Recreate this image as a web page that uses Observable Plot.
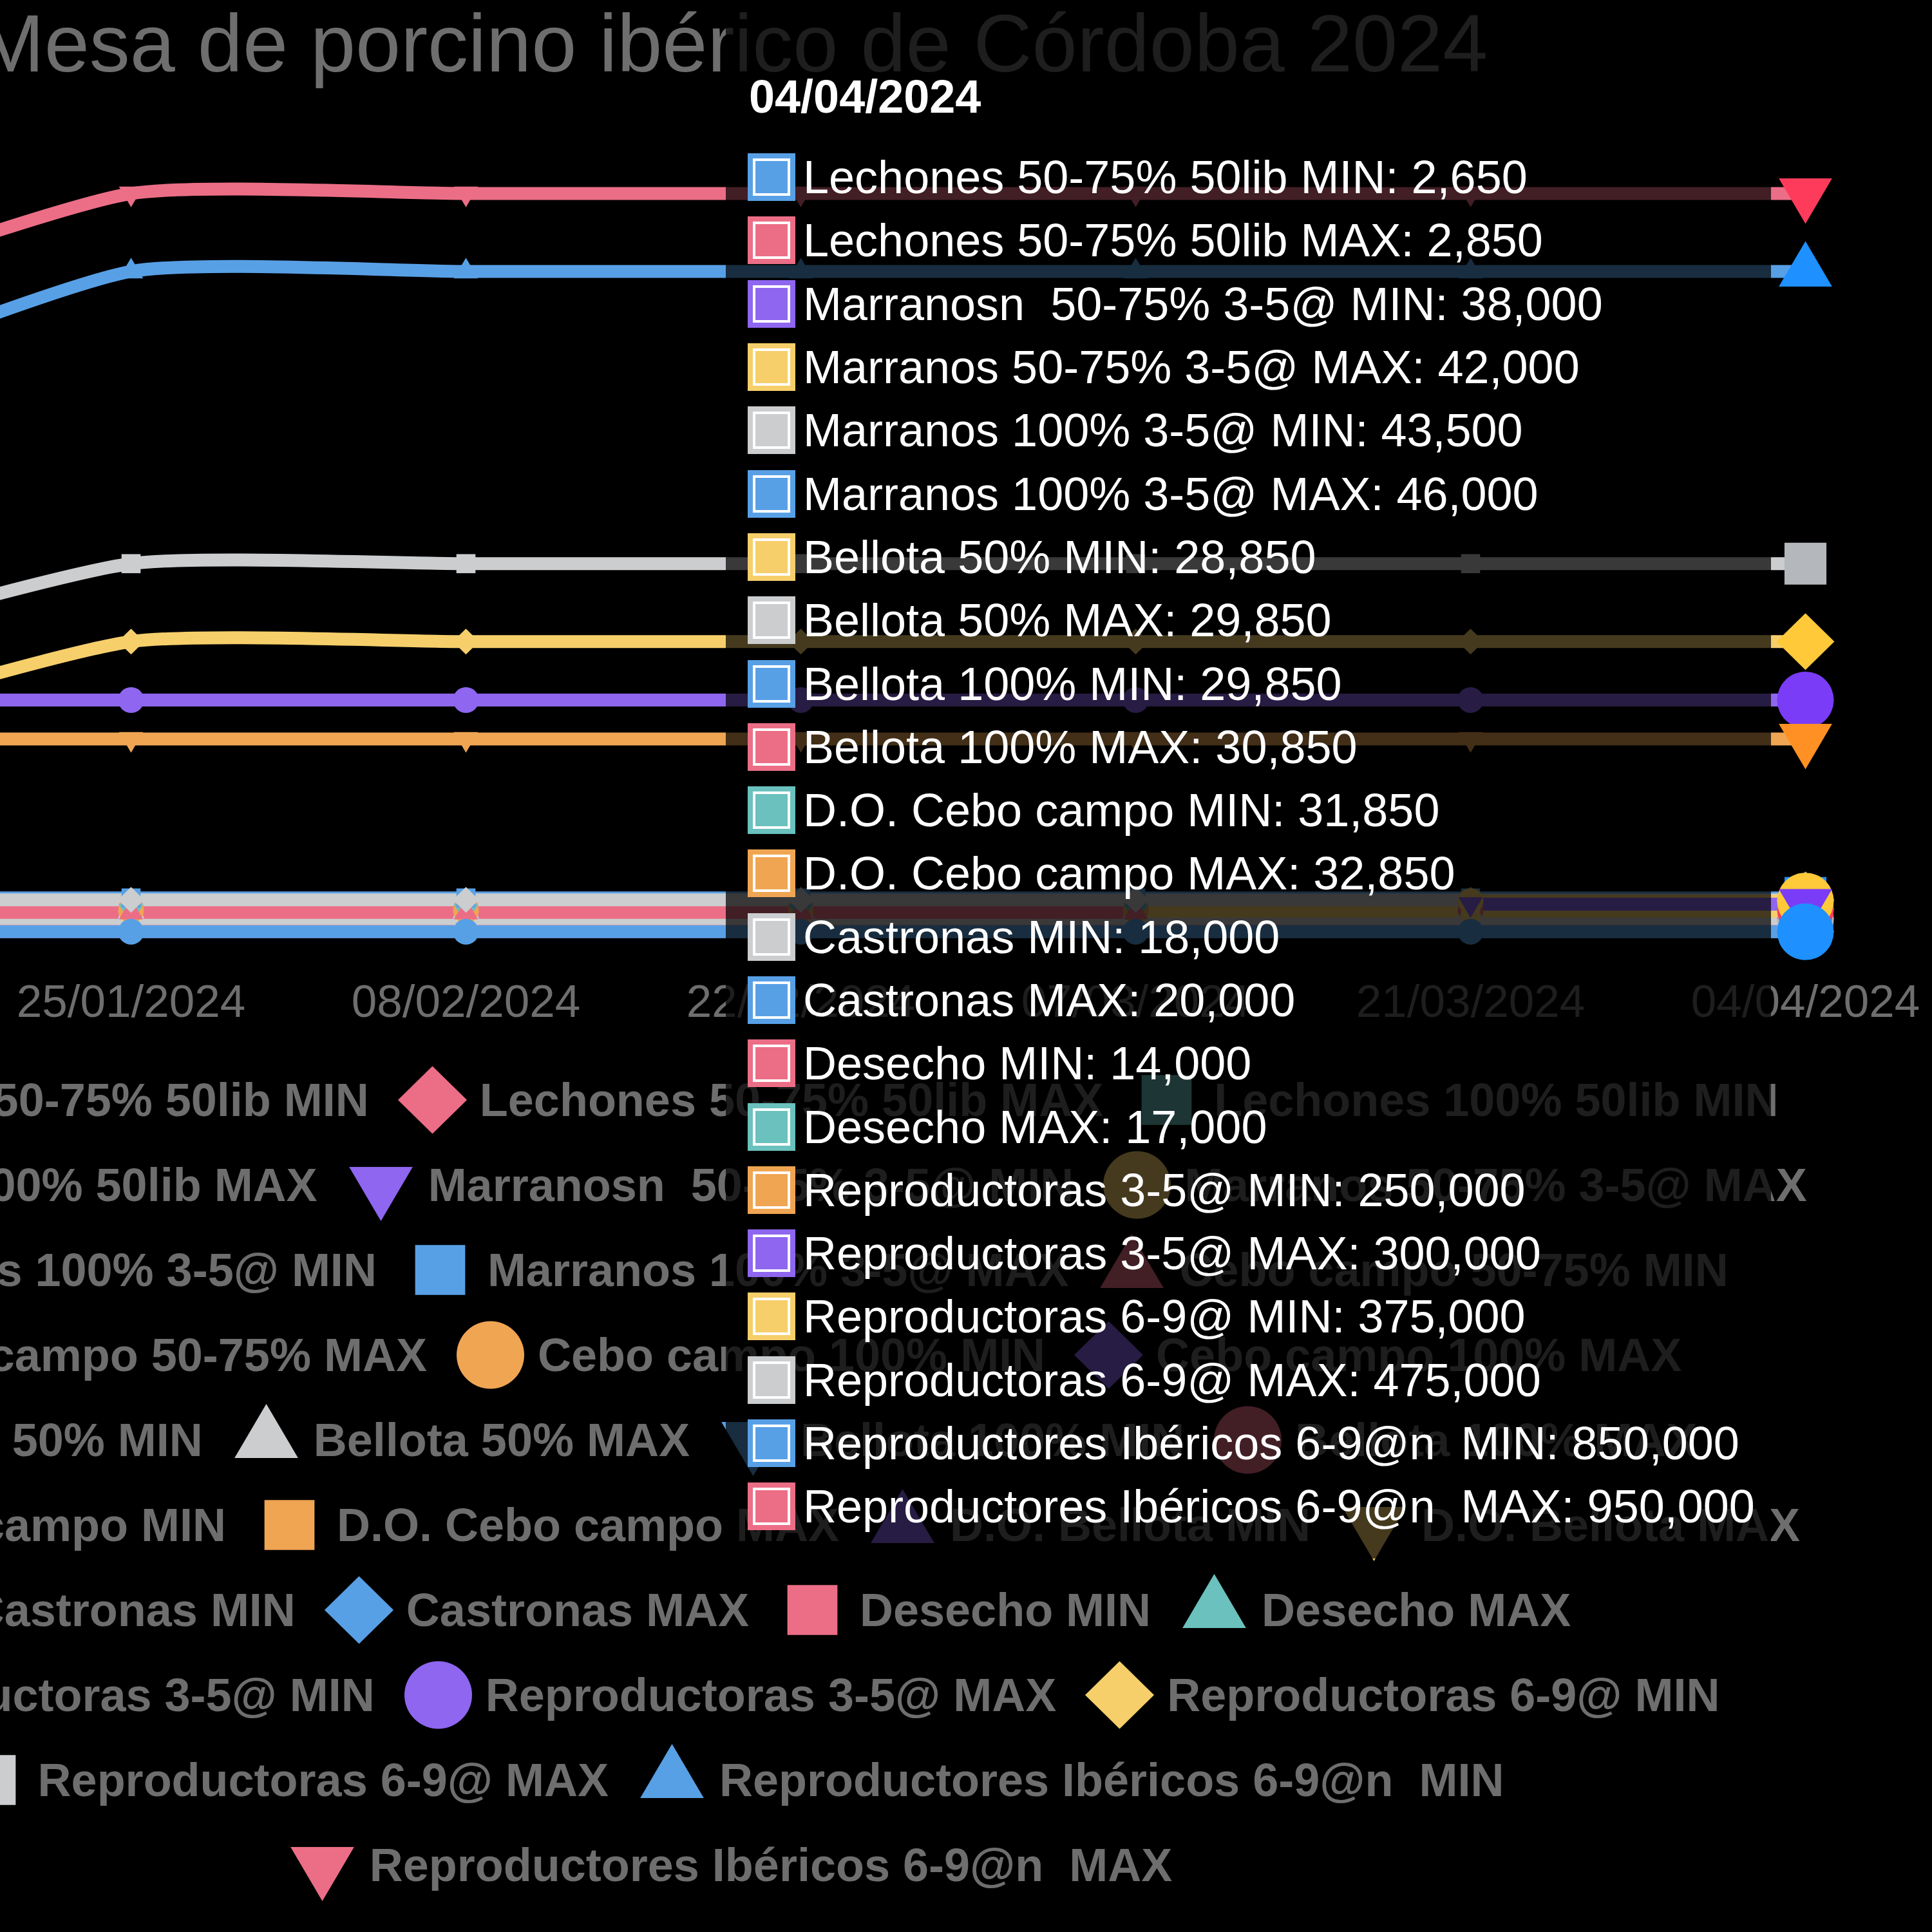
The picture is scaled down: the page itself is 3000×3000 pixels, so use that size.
<!DOCTYPE html>
<html><head><meta charset="utf-8">
<script src="https://cdn.jsdelivr.net/npm/d3@7"></script>
<script src="https://cdn.jsdelivr.net/npm/@observablehq/plot@0.6"></script>
<style>
html,body{margin:0;padding:0;background:#000;width:3000px;height:3000px;overflow:hidden;}
#root{position:relative;width:3000px;height:3000px;overflow:hidden;font-family:"Liberation Sans",Arial,Helvetica,sans-serif;}
#title{position:absolute;left:-730px;width:3734px;top:5px;text-align:center;font-size:126px;line-height:126px;color:#6e6e6e;white-space:pre;}
#chart{position:absolute;left:-734px;top:0;width:3734px;}
#chart svg{max-width:none;}
#legend{position:absolute;left:-617px;width:3500px;top:1642px;display:flex;flex-wrap:wrap;justify-content:center;column-gap:44px;}
.li{display:flex;align-items:center;height:132px;}
.li svg{width:109px;height:132px;margin-right:19px;display:block;}
.li span{font-weight:bold;font-size:72px;color:#6e6e6e;white-space:pre;}
#tip{position:absolute;left:1127px;top:0;width:1623px;height:2420px;background:rgba(0,0,0,0.72);}
#tipDate{position:absolute;left:36px;top:114px;font-weight:bold;font-size:72px;line-height:72px;color:#fff;}
#tipRows{position:absolute;left:34px;top:226px;}
.tr{display:flex;align-items:center;height:98.3px;}
.tr .mk{width:74px;height:74px;position:relative;margin-right:12px;flex:none;}
.tr .mk::after{content:"";position:absolute;left:8px;top:8px;right:8px;bottom:8px;border:4px solid #fff;}
.tr span{font-size:72px;color:#fff;white-space:pre;}
</style></head>
<body><div id="root"></div>
<script>
// ---------------- data ----------------
const chartTitle = "Mesa de porcino ibérico de Córdoba 2024";
const dates = ["2024-01-11","2024-01-25","2024-02-08","2024-02-22","2024-03-07","2024-03-21","2024-04-04"];
const seriesNames = [
  "Lechones 50-75% 50lib MIN","Lechones 50-75% 50lib MAX","Lechones 100% 50lib MIN","Lechones 100% 50lib MAX",
  "Marranosn  50-75% 3-5@ MIN","Marranos 50-75% 3-5@ MAX","Marranos 100% 3-5@ MIN","Marranos 100% 3-5@ MAX",
  "Cebo campo 50-75% MIN","Cebo campo 50-75% MAX","Cebo campo 100% MIN","Cebo campo 100% MAX",
  "Bellota 50% MIN","Bellota 50% MAX","Bellota 100% MIN","Bellota 100% MAX",
  "D.O. Cebo campo MIN","D.O. Cebo campo MAX","D.O. Bellota MIN","D.O. Bellota MAX",
  "Castronas MIN","Castronas MAX","Desecho MIN","Desecho MAX",
  "Reproductoras 3-5@ MIN","Reproductoras 3-5@ MAX","Reproductoras 6-9@ MIN","Reproductoras 6-9@ MAX",
  "Reproductores Ibéricos 6-9@n  MIN","Reproductores Ibéricos 6-9@n  MAX"
];
const lechones5075Min   = [2650,2650,2650,2650,2650,2650,2650];
const lechones5075Max   = [2850,2850,2850,2850,2850,2850,2850];
const lechones100Min    = [null,null,null,null,null,null,null];
const lechones100Max    = [null,null,null,null,null,null,null];
const marranos5075Min   = [null,null,null,null,null,38000,38000];
const marranos5075Max   = [null,null,null,null,null,42000,42000];
const marranos100Min    = [43500,43500,43500,43500,43500,43500,43500];
const marranos100Max    = [46000,46000,46000,46000,46000,46000,46000];
const cebo5075Min       = [27500,27500,27500,27500,27500,null,null];
const cebo5075Max       = [29000,29000,29000,29000,29000,null,null];
const cebo100Min        = [30000,30000,30000,30000,30000,null,null];
const cebo100Max        = [31500,31500,31500,31500,31500,null,null];
const bellota50Min      = [28850,28850,28850,28850,28850,28850,28850];
const bellota50Max      = [29850,29850,29850,29850,29850,29850,29850];
const bellota100Min     = [29850,29850,29850,29850,29850,29850,29850];
const bellota100Max     = [30850,30850,30850,30850,30850,30850,30850];
const doCeboMin         = [31850,31850,31850,31850,31850,31850,31850];
const doCeboMax         = [32850,32850,32850,32850,32850,32850,32850];
const doBellotaMin      = [null,null,null,null,null,null,null];
const doBellotaMax      = [null,null,null,null,null,null,null];
const castronasMin      = [18000,18000,18000,18000,18000,18000,18000];
const castronasMax      = [20000,20000,20000,20000,20000,20000,20000];
const desechoMin        = [14000,14000,14000,14000,14000,14000,14000];
const desechoMax        = [17000,17000,17000,17000,17000,17000,17000];
const repro35Min        = [250000,250000,250000,250000,250000,250000,250000];
const repro35Max        = [300000,300000,300000,300000,300000,300000,300000];
const repro69Min        = [260000,375000,375000,375000,375000,375000,375000];
const repro69Max        = [365000,475000,475000,475000,475000,475000,475000];
const reproIbMin        = [700000,850000,850000,850000,850000,850000,850000];
const reproIbMax        = [815000,950000,950000,950000,950000,950000,950000];

const seriesValues = [
  lechones5075Min,lechones5075Max,lechones100Min,lechones100Max,
  marranos5075Min,marranos5075Max,marranos100Min,marranos100Max,
  cebo5075Min,cebo5075Max,cebo100Min,cebo100Max,
  bellota50Min,bellota50Max,bellota100Min,bellota100Max,
  doCeboMin,doCeboMax,doBellotaMin,doBellotaMax,
  castronasMin,castronasMax,desechoMin,desechoMax,
  repro35Min,repro35Max,repro69Min,repro69Max,reproIbMin,reproIbMax
];

// ---------------- style ----------------
const palette     = ["#58a0e6","#ec6e86","#6ac1bd","#f0a553","#8e66f0","#f6cf6b","#cbcdcf"];
const emphPalette = ["#1e90ff","#ff3b5c","#2ec4bd","#ff9124","#7a3cf6","#ffc93a","#b4b7bb"];
const shapeCycle  = ["circle","diamond","rect","triangle","triangleDown"];

function makeSymbol(kind) {
  return {draw(ctx, size) {
    const u = 2 * Math.sqrt(size / Math.PI);
    if (kind === "circle") { ctx.moveTo(u / 2, 0); ctx.arc(0, 0, u / 2, 0, 2 * Math.PI); }
    else if (kind === "rect") { const s = 0.74 * u; ctx.rect(-s / 2, -s / 2, s, s); }
    else if (kind === "diamond") { const w = 0.51 * u, h = 0.5 * u; ctx.moveTo(0, -h); ctx.lineTo(w, 0); ctx.lineTo(0, h); ctx.lineTo(-w, 0); ctx.closePath(); }
    else if (kind === "triangle") { const w = 0.47 * u, h = 0.8 * u; ctx.moveTo(0, -2 * h / 3); ctx.lineTo(w, h / 3); ctx.lineTo(-w, h / 3); ctx.closePath(); }
    else { const w = 0.47 * u, h = 0.8 * u; ctx.moveTo(0, 2 * h / 3); ctx.lineTo(w, -h / 3); ctx.lineTo(-w, -h / 3); ctx.closePath(); }
  }};
}
const symbols = Object.fromEntries(shapeCycle.map(k => [k, makeSymbol(k)]));
const colorOf = i => palette[i % palette.length];
const emphOf = i => emphPalette[i % emphPalette.length];
const symOf = i => symbols[shapeCycle[i % shapeCycle.length]];

// ECharts-like smooth curve (length-weighted control points)
function EchartsSmooth(context) { this._context = context; }
EchartsSmooth.prototype = {
  areaStart() {}, areaEnd() {},
  lineStart() { this._pts = []; },
  point(x, y) { this._pts.push([+x, +y]); },
  lineEnd() {
    const p = this._pts, c = this._context, s = 0.2;
    if (!p.length) return;
    c.moveTo(p[0][0], p[0][1]);
    let cp0 = p[0];
    for (let i = 1; i < p.length; i++) {
      const cur = p[i], prev = p[i - 1], next = p[i + 1];
      let cp1, ncp0;
      if (!next) { cp1 = cur; ncp0 = cur; }
      else {
        const vx = next[0] - prev[0], vy = next[1] - prev[1];
        const l0 = Math.hypot(cur[0] - prev[0], cur[1] - prev[1]);
        const l1 = Math.hypot(next[0] - cur[0], next[1] - cur[1]);
        const r = l1 / (l0 + l1);
        cp1 = [cur[0] - vx * s * (1 - r), cur[1] - vy * s * (1 - r)];
        ncp0 = [cur[0] + vx * s * r, cur[1] + vy * s * r];
      }
      c.bezierCurveTo(cp0[0], cp0[1], cp1[0], cp1[1], cur[0], cur[1]);
      cp0 = ncp0;
    }
  }
};
const echartsCurve = ctx => new EchartsSmooth(ctx);

// ---------------- build ----------------
const root = document.getElementById("root");
const dateObjs = dates.map(d => new Date(d + "T00:00:00Z"));
const fmtDate = d3.utcFormat("%d/%m/%Y");
const fmtNum = d3.format(",");
const n = seriesNames.length, last = dates.length - 1;

const titleDiv = document.createElement("div");
titleDiv.id = "title"; titleDiv.textContent = chartTitle;
root.appendChild(titleDiv);

const rows = [];
for (let i = n - 1; i >= 0; i--) seriesValues[i].forEach((v, j) => rows.push({idx: i, date: dateObjs[j], value: v, color: colorOf(i)}));

const marks = [
  Plot.line(rows, {x: "date", y: "value", z: "idx", stroke: "color", strokeWidth: 20, curve: echartsCurve, strokeLinecap: "butt"})
];
for (let i = n - 1; i >= 0; i--) {
  const pts = rows.filter(r => r.idx === i && r.value != null);
  if (pts.length) marks.push(Plot.dot(pts, {x: "date", y: "value", r: 20, symbol: symOf(i), fill: colorOf(i), stroke: "none"}));
}
for (let i = n - 1; i >= 0; i--) {
  const v = seriesValues[i][last];
  if (v != null) marks.push(Plot.dot([{date: dateObjs[last], value: v}], {x: "date", y: "value", r: 44, symbol: symOf(i), fill: emphOf(i), stroke: "none"}));
}

const chart = Plot.plot({
  width: 3734, height: 1700,
  marginLeft: 417, marginRight: 197, marginTop: 239.5, marginBottom: 250.5,
  style: {background: "transparent", color: "#6e6e6e", fontFamily: "'Liberation Sans', Arial, sans-serif", fontSize: "71px", overflow: "visible", maxWidth: "none"},
  x: {type: "utc", domain: [dateObjs[0], dateObjs[last]], ticks: dateObjs, tickFormat: fmtDate, tickSize: 0, tickPadding: 79, label: null},
  y: {domain: [0, 1000000], axis: null},
  marks
});
const chartDiv = document.createElement("div");
chartDiv.id = "chart"; chartDiv.appendChild(chart);
root.appendChild(chartDiv);

// legend
const legend = document.createElement("div");
legend.id = "legend";
seriesNames.forEach((name, i) => {
  const item = document.createElement("div"); item.className = "li";
  const p = d3.path(); symOf(i).draw(p, Math.PI * 52.5 * 52.5);
  item.innerHTML = `<svg viewBox="-54.5 -66 109 132"><path d="${p.toString()}" fill="${colorOf(i)}"/></svg>`;
  const t = document.createElement("span"); t.textContent = name; item.appendChild(t);
  legend.appendChild(item);
});
root.appendChild(legend);

// tooltip
const tip = document.createElement("div"); tip.id = "tip";
const td = document.createElement("div"); td.id = "tipDate"; td.textContent = fmtDate(dateObjs[last]); tip.appendChild(td);
const tr = document.createElement("div"); tr.id = "tipRows";
seriesNames.forEach((name, i) => {
  const v = seriesValues[i][last];
  if (v == null) return;
  const row = document.createElement("div"); row.className = "tr";
  const mk = document.createElement("div"); mk.className = "mk"; mk.style.background = colorOf(i);
  const t = document.createElement("span"); t.textContent = `${name}: ${fmtNum(v)}`;
  row.appendChild(mk); row.appendChild(t); tr.appendChild(row);
});
tip.appendChild(tr);
root.appendChild(tip);
</script>
</body></html>
